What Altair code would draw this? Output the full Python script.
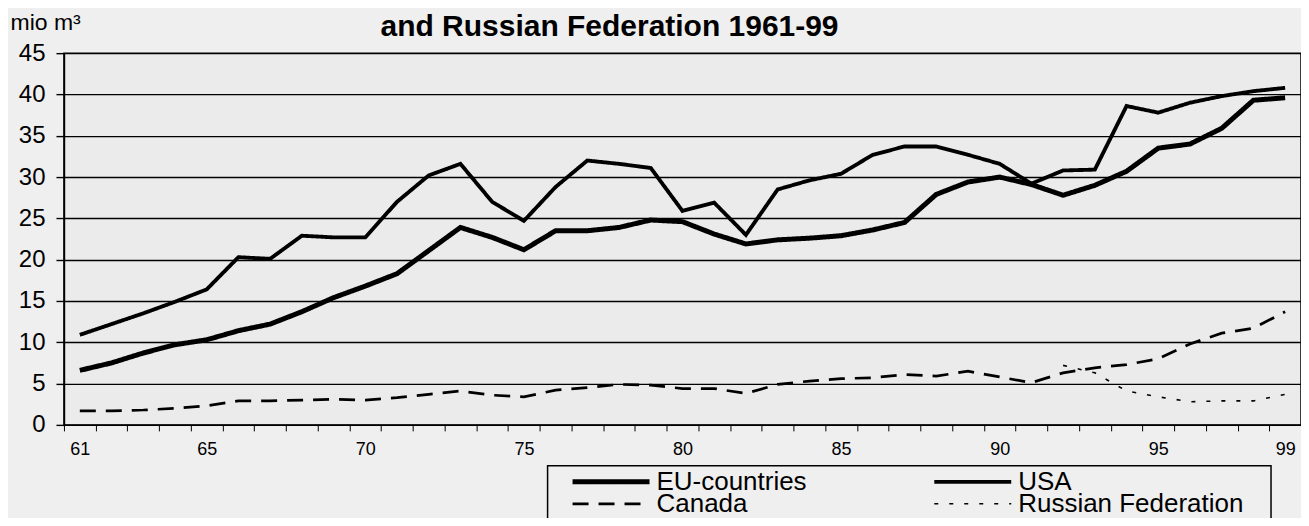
import altair as alt
import pandas as pd

# ---- data ----
years = list(range(61, 100))
eu = [6.6, 7.5, 8.7, 9.7, 10.3, 11.4, 12.2, 13.7, 15.4, 16.8,
      18.3, 21.1, 23.9, 22.7, 21.2, 23.5, 23.5, 23.9, 24.8, 24.6,
      23.1, 21.9, 22.4, 22.6, 22.9, 23.6, 24.5, 27.9, 29.4, 30.0,
      29.1, 27.8, 29.0, 30.7, 33.5, 34.0, 35.9, 39.3, 39.6]
usa = [10.9, 12.2, 13.5, 14.9, 16.4, 20.3, 20.1, 22.9, 22.7, 22.7,
       27.0, 30.2, 31.6, 27.0, 24.7, 28.8, 32.0, 31.6, 31.1, 25.9,
       26.9, 23.0, 28.5, 29.6, 30.4, 32.7, 33.7, 33.7, 32.7, 31.6,
       29.2, 30.8, 30.9, 38.6, 37.8, 39.0, 39.8, 40.4, 40.8]
canada = [1.7, 1.7, 1.8, 2.0, 2.3, 2.9, 2.9, 3.0, 3.1, 3.0,
          3.3, 3.7, 4.1, 3.6, 3.4, 4.2, 4.5, 4.9, 4.8, 4.4,
          4.4, 3.8, 4.9, 5.3, 5.6, 5.7, 6.1, 5.9, 6.5, 5.8,
          5.1, 6.3, 6.9, 7.3, 8.0, 9.8, 11.1, 11.7, 13.7]
russia_years = list(range(92, 100))
russia = [7.2, 6.3, 4.1, 3.4, 2.8, 2.9, 2.9, 3.7]

series_names = ["EU-countries", "USA", "Canada", "Russian Federation"]
x_labels = [61, 65, 70, 75, 80, 85, 90, 95, 99]
y_ticks = list(range(0, 50, 5))
title_text = "and Russian Federation 1961-99"
unit_text = "mio m³"

rows = []
for name, xs, vs in [("EU-countries", years, eu), ("USA", years, usa),
                     ("Canada", years, canada), ("Russian Federation", russia_years, russia)]:
    for x, v in zip(xs, vs):
        rows.append({"year": x, "value": v, "series": name})
df = pd.DataFrame(rows)

FONT = "Liberation Sans"
W, H = 1238, 372

dash_scale = alt.Scale(domain=series_names, range=[[1, 0], [1, 0], [16, 10], [4, 11]])
width_scale = alt.Scale(domain=series_names, range=[5, 1.6, 2, 3])

tick_vals = [y - 0.5 for y in years] + [years[-1] + 0.5]
label_arr = "[" + ",".join(str(v) for v in x_labels) + "]"

lines = alt.Chart(df).mark_line(color="black").encode(
    x=alt.X("year:Q",
            scale=alt.Scale(domain=[60.5, 99.5], nice=False, zero=False),
            axis=alt.Axis(values=tick_vals,
                          labelExpr=f"indexof({label_arr}, datum.value + 0.5) >= 0 ? format(datum.value + 0.5, 'd') : ''",
                          labelOffset=W / 39 / 2, labelFlush=False, labelOverlap=False,
                          labelFontSize=18, labelFont=FONT, labelColor="black", labelPadding=10,
                          tickSize=6, tickColor="black", tickWidth=1,
                          domainColor="black", domainWidth=1.5, grid=False, title=None)),
    y=alt.Y("value:Q",
            scale=alt.Scale(domain=[0, 45], nice=False),
            axis=alt.Axis(values=y_ticks, grid=True, gridColor="black", gridWidth=1.4,
                          gridOpacity=1, tickSize=8, tickColor="black", tickWidth=1.4,
                          domainColor="black", domainWidth=1.5,
                          labelFontSize=24, labelFont=FONT, labelColor="black", labelPadding=11,
                          title=unit_text, titleAngle=0, titleX=-54, titleY=-31,
                          titleAlign="left", titleBaseline="middle", titleFont=FONT,
                          titleFontSize=23, titleFontWeight="normal", titleColor="black")),
    strokeDash=alt.StrokeDash("series:N", scale=dash_scale, legend=None),
    strokeWidth=alt.StrokeWidth("series:N", scale=width_scale, legend=None),
    detail="series:N",
)

# ---- legend (two columns, drawn with the same dash/width scales) ----
col_x = [509, 871]
row_y = [429, 451]
sym_len = 77
leg = pd.DataFrame({
    "series": series_names,
    "x": [col_x[i % 2] for i in range(4)],
    "y": [row_y[i // 2] for i in range(4)],
})
leg["x2"] = leg["x"] + sym_len
leg["tx"] = leg["x2"] + 7

leg_rules = alt.Chart(leg).mark_rule(color="black").encode(
    x=alt.X("x:Q", scale=None, axis=None),
    x2="x2:Q",
    y=alt.Y("y:Q", scale=None, axis=None),
    strokeDash=alt.StrokeDash("series:N", scale=dash_scale, legend=None),
    strokeWidth=alt.StrokeWidth("series:N", scale=width_scale, legend=None),
)
leg_text = alt.Chart(leg).mark_text(
    align="left", baseline="middle", font=FONT, fontSize=26, color="black"
).encode(
    x=alt.X("tx:Q", scale=None, axis=None),
    y=alt.Y("y:Q", scale=None, axis=None),
    text="series:N",
)

box = alt.Chart(pd.DataFrame({"k": [0]})).mark_rect(
    fillOpacity=0, stroke="black", strokeWidth=1.5
).encode(
    x=alt.value(484), x2=alt.value(1208), y=alt.value(413), y2=alt.value(700)
)

chart = alt.layer(lines, box, leg_rules, leg_text).properties(
    width=W, height=H,
    autosize=alt.AutoSizeParams(type="none"),
    padding={"left": 56, "top": 45, "right": 0, "bottom": 93},
    background="#efefef",
    title=alt.Title(title_text, font=FONT, fontSize=30, fontWeight="bold",
                    color="black", anchor="middle", dx=-73, dy=35),
).configure_view(stroke="black", strokeWidth=1.5, fill="#ebebeb")

chart.save("out.html", embed_options={"renderer": "svg", "actions": False})
